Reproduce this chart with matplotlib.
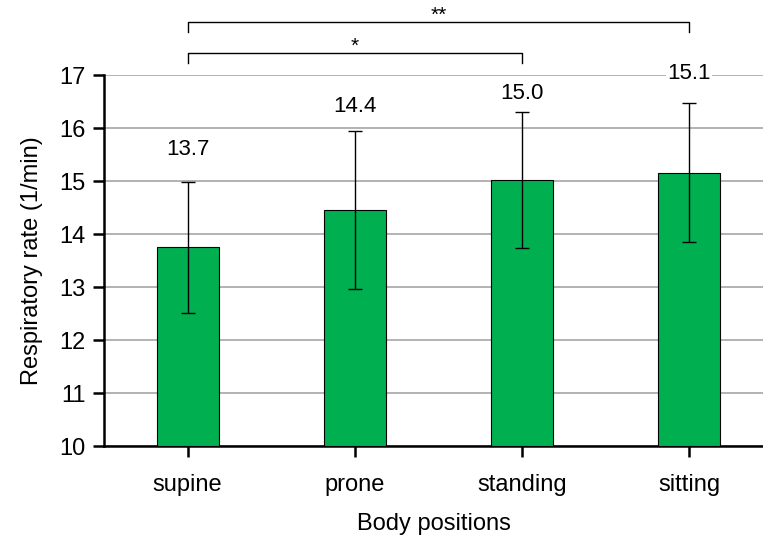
import matplotlib.pyplot as plt
import numpy as np

plt.rcParams['font.family'] = ['Liberation Sans', 'DejaVu Sans']

# data
positions = ['supine', 'prone', 'standing', 'sitting']
means = [13.75, 14.45, 15.02, 15.16]
sds = [1.24, 1.49, 1.29, 1.31]
labels = ['13.7', '14.4', '15.0', '15.1']
label_y = [15.6, 16.4, 16.65, 17.03]

fig = plt.figure(figsize=(7.63, 5.42), dpi=100)
ax = fig.add_axes([0.1363, 0.177, 0.8637, 0.6846])

x = np.arange(len(positions))
ax.bar(x, np.array(means) - 10, bottom=10, width=0.37, color='#00B050',
       edgecolor='black', linewidth=0.8, zorder=3)
ax.errorbar(x, means, yerr=sds, fmt='none', ecolor='black', elinewidth=1,
            capsize=5, capthick=1, zorder=4)

for xi, lab, ly in zip(x, labels, label_y):
    ax.text(xi, ly, lab, ha='center', va='center', fontsize=16, zorder=5,
            bbox=dict(facecolor='white', edgecolor='none', pad=1))

ax.set_xlim(-0.5, 3.44)
ax.set_ylim(10, 17)
ax.set_yticks(range(10, 18))
ax.set_xticks(x)
ax.set_xticklabels(positions)
ax.yaxis.grid(True, color='#a6a6a6', linewidth=1.2, zorder=0)
ax.set_axisbelow(True)

for s in ['top', 'right']:
    ax.spines[s].set_visible(False)
for s in ['left', 'bottom']:
    ax.spines[s].set_linewidth(1.8)
ax.tick_params(axis='both', direction='out', length=8, width=1.8, labelsize=17, pad=5)
ax.tick_params(axis='x', pad=12)

ax.set_xlabel('Body positions', fontsize=17, labelpad=12)
ax.set_ylabel('Respiratory rate (1/min)', fontsize=17, labelpad=12)

# significance brackets
def bracket(x1, x2, y, h, txt):
    ax.plot([x1, x1, x2, x2], [y - h, y, y, y - h], color='black', lw=1,
            clip_on=False)
    ax.text((x1 + x2) / 2, y + 0.12, txt, ha='center', va='center', fontsize=15)

bracket(0, 2, 17.42, 0.19, '*')
bracket(0, 3, 18.0, 0.19, '**')

fig.savefig('out.png', dpi=100, facecolor='white')
